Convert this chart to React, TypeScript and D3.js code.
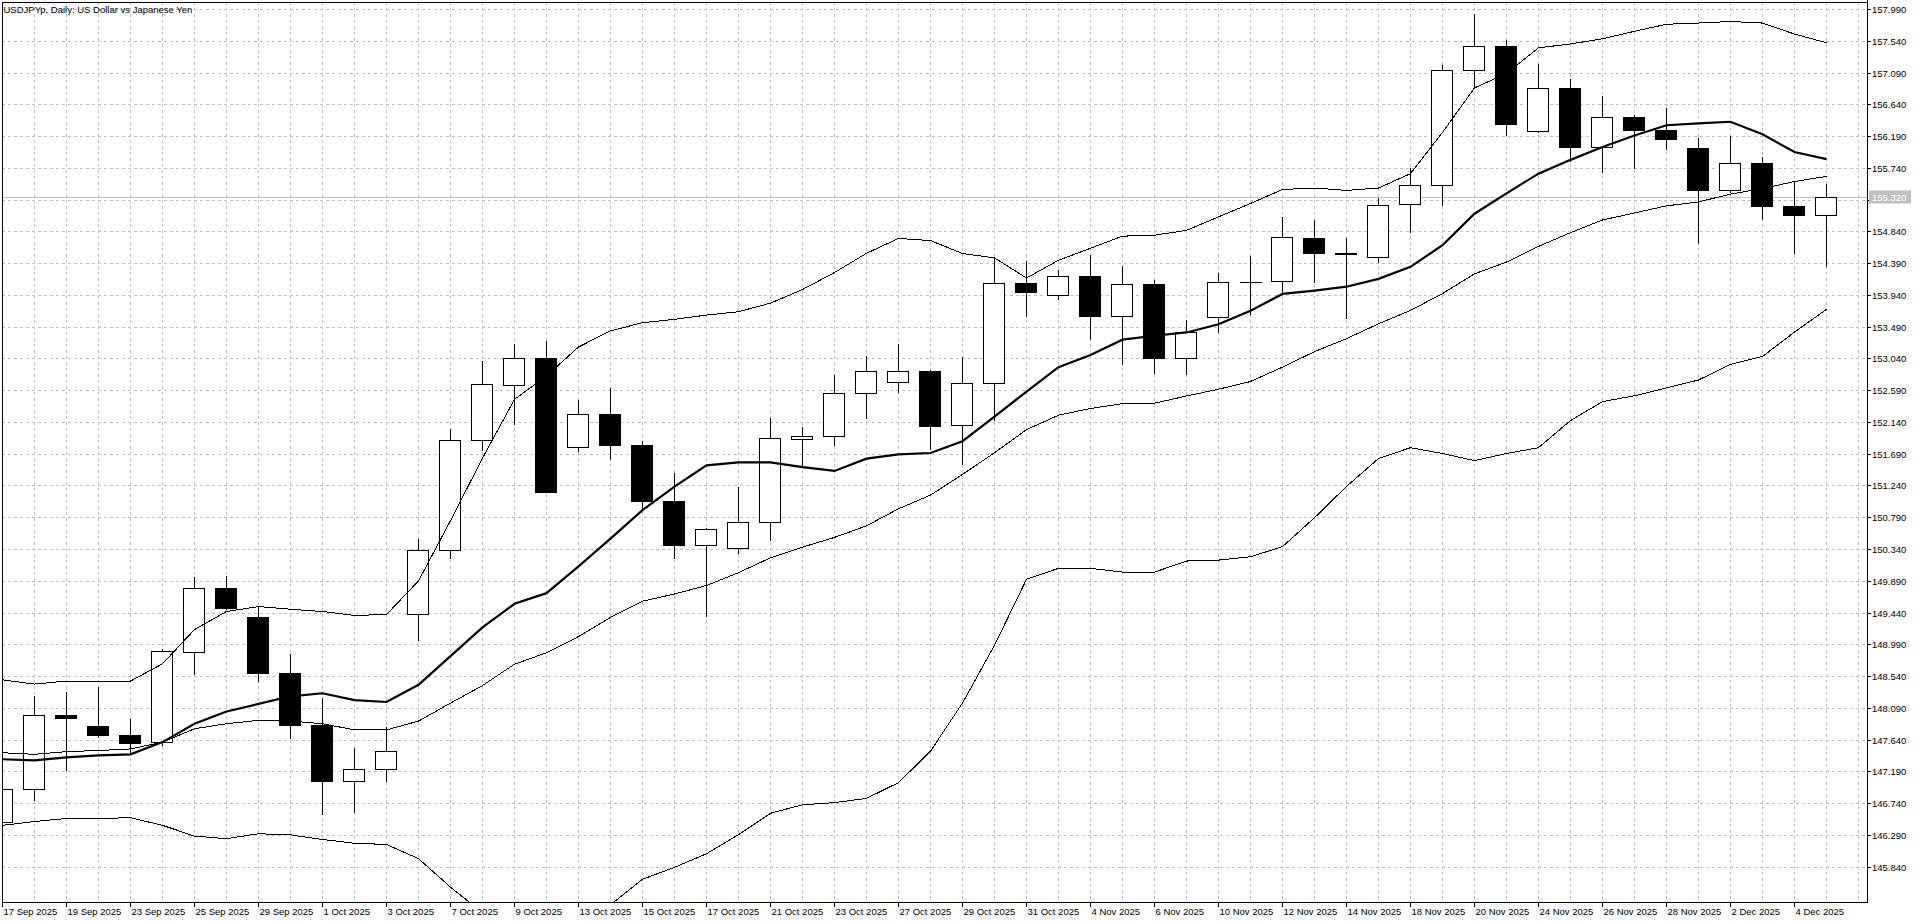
import React from 'react';
import * as d3 from 'd3';

// USDJPYp daily candles, 17 Sep 2025 .. 5 Dec 2025
const dates = [
  '17 Sep 2025', '18 Sep 2025', '19 Sep 2025', '22 Sep 2025', '23 Sep 2025', '24 Sep 2025', '25 Sep 2025', '26 Sep 2025',
  '29 Sep 2025', '30 Sep 2025', '1 Oct 2025', '2 Oct 2025', '3 Oct 2025', '6 Oct 2025', '7 Oct 2025', '8 Oct 2025',
  '9 Oct 2025', '10 Oct 2025', '13 Oct 2025', '14 Oct 2025', '15 Oct 2025', '16 Oct 2025', '17 Oct 2025', '20 Oct 2025',
  '21 Oct 2025', '22 Oct 2025', '23 Oct 2025', '24 Oct 2025', '27 Oct 2025', '28 Oct 2025', '29 Oct 2025', '30 Oct 2025',
  '31 Oct 2025', '3 Nov 2025', '4 Nov 2025', '5 Nov 2025', '6 Nov 2025', '7 Nov 2025', '10 Nov 2025', '11 Nov 2025',
  '12 Nov 2025', '13 Nov 2025', '14 Nov 2025', '17 Nov 2025', '18 Nov 2025', '19 Nov 2025', '20 Nov 2025', '21 Nov 2025',
  '24 Nov 2025', '25 Nov 2025', '26 Nov 2025', '27 Nov 2025', '28 Nov 2025', '1 Dec 2025', '2 Dec 2025', '3 Dec 2025',
  '4 Dec 2025', '5 Dec 2025',
];

const open = [
  146.48, 146.945, 147.99, 147.838, 147.708, 147.605, 148.887, 149.79, 149.374, 148.579,
  147.848, 147.053, 147.226, 149.422, 150.326, 151.887, 152.659, 153.045, 151.784, 152.249,
  151.814, 151.024, 150.391, 150.361, 150.729, 151.899, 151.941, 152.55, 152.713, 152.858,
  152.092, 152.692, 154.104, 153.933, 154.206, 153.647, 154.09, 153.047, 153.62, 154.12,
  154.138, 154.745, 154.53, 154.479, 155.229, 155.496, 157.128, 157.468, 156.259, 156.877,
  156.036, 156.454, 156.27, 156.02, 155.424, 155.808, 155.201, 155.073,
];
const high = [
  147.05, 148.265, 148.308, 148.384, 147.93, 148.925, 149.942, 149.963, 149.525, 148.849,
  148.227, 147.518, 147.821, 150.483, 152.04, 153.003, 153.244, 153.28, 152.448, 152.617,
  151.875, 151.41, 150.64, 151.223, 152.194, 152.062, 152.804, 153.075, 153.25, 152.87,
  153.054, 154.465, 154.417, 154.295, 154.499, 154.349, 154.145, 153.579, 154.247, 154.485,
  155.045, 155.004, 154.751, 155.317, 155.741, 157.2, 157.913, 157.551, 157.206, 156.994,
  156.755, 156.482, 156.593, 156.159, 156.198, 155.897, 155.546, 155.507,
];
const low = [
  146.35, 146.767, 147.19, 147.66, 147.43, 147.55, 148.552, 149.48, 148.46, 147.643,
  146.577, 146.599, 147.037, 149.038, 150.2, 151.724, 152.098, 151.13, 151.712, 151.603,
  150.91, 150.204, 149.371, 150.264, 150.451, 151.483, 151.802, 152.188, 152.55, 151.736,
  151.533, 152.147, 153.626, 153.872, 153.299, 152.945, 152.815, 152.808, 153.395, 153.66,
  153.967, 154.104, 153.599, 154.397, 154.811, 155.201, 156.883, 156.198, 156.24, 155.825,
  155.669, 155.724, 155.992, 154.666, 155.379, 155.006, 154.516, 154.338,
];
const close = [
  146.945, 147.984, 147.95, 147.7, 147.594, 148.892, 149.79, 149.509, 148.579, 147.848,
  147.053, 147.226, 147.475, 150.326, 151.889, 152.671, 153.045, 151.151, 152.249, 151.814,
  151.024, 150.397, 150.62, 150.729, 151.911, 151.941, 152.55, 152.858, 152.858, 152.086,
  152.692, 154.104, 153.974, 154.206, 153.647, 154.09, 153.047, 153.408, 154.117, 154.125,
  154.758, 154.533, 154.52, 155.215, 155.496, 157.128, 157.468, 156.365, 156.877, 156.031,
  156.454, 156.27, 156.148, 155.424, 155.808, 155.201, 155.073, 155.32,
];

// bollinger bands (thin lines)
const bbUpper = [
  148.487, 148.427, 148.47, 148.47, 148.47, 148.714, 149.2, 149.455, 149.525, 149.487,
  149.455, 149.4, 149.412, 149.888, 150.742, 151.627, 152.46, 152.792, 153.202, 153.431,
  153.546, 153.594, 153.654, 153.702, 153.823, 154.016, 154.257, 154.529, 154.74, 154.71,
  154.526, 154.465, 154.179, 154.431, 154.601, 154.772, 154.786, 154.854, 155.045, 155.235,
  155.433, 155.454, 155.42, 155.454, 155.658, 156.242, 156.872, 157.078, 157.44, 157.495,
  157.568, 157.674, 157.774, 157.791, 157.813, 157.791, 157.635, 157.512,
];
const bbMiddle = [
  147.454, 147.432, 147.47, 147.486, 147.508, 147.605, 147.794, 147.865, 147.913, 147.903,
  147.865, 147.778, 147.778, 147.903, 148.157, 148.406, 148.708, 148.871, 149.1, 149.371,
  149.601, 149.703, 149.824, 150.005, 150.216, 150.367, 150.505, 150.668, 150.91, 151.104,
  151.397, 151.704, 152.031, 152.236, 152.331, 152.399, 152.406, 152.508, 152.604, 152.713,
  152.917, 153.136, 153.32, 153.531, 153.72, 153.959, 154.238, 154.405, 154.627, 154.822,
  155.001, 155.101, 155.201, 155.257, 155.368, 155.446, 155.546, 155.619,
];
// 15..19 run below the visible area, estimated
const bbLower = [
  146.426, 146.48, 146.523, 146.523, 146.534, 146.426, 146.274, 146.237, 146.307, 146.291,
  146.226, 146.172, 146.155, 145.955, 145.55, 145.19, 144.96, 144.95, 145.0, 145.3,
  145.662, 145.831, 146.024, 146.295, 146.597, 146.717, 146.747, 146.808, 147.031, 147.477,
  148.158, 148.977, 149.911, 150.067, 150.067, 150.013, 150.013, 150.17, 150.183, 150.231,
  150.374, 150.783, 151.227, 151.622, 151.776, 151.693, 151.592, 151.693, 151.776, 152.16,
  152.428, 152.511, 152.623, 152.734, 152.957, 153.068, 153.413, 153.736,
];
// moving average (thick line)
const ma = [
  147.362, 147.346, 147.389, 147.416, 147.432, 147.605, 147.865, 148.038, 148.146, 148.254,
  148.297, 148.2, 148.173, 148.417, 148.822, 149.23, 149.564, 149.715, 150.095, 150.487,
  150.891, 151.223, 151.525, 151.567, 151.567, 151.501, 151.446, 151.621, 151.682, 151.7,
  151.867, 152.215, 152.57, 152.917, 153.088, 153.306, 153.361, 153.408, 153.524, 153.715,
  153.954, 154.001, 154.056, 154.167, 154.338, 154.644, 155.09, 155.379, 155.658, 155.853,
  156.036, 156.198, 156.343, 156.371, 156.393, 156.215, 155.964, 155.864,
];

const priceTicks = [
  157.99, 157.54, 157.09, 156.64, 156.19, 155.74, 155.29, 154.84, 154.39, 153.94,
  153.49, 153.04, 152.59, 152.14, 151.69, 151.24, 150.79, 150.34, 149.89, 149.44,
  148.99, 148.54, 148.09, 147.64, 147.19, 146.74, 146.29, 145.84,
];
const bid = 155.32;

const W = 1920;
const H = 923;
const L = 2;
const T = 2;
const R = 1867;
const B = 902;
const FONT = "'Liberation Sans', Arial, sans-serif";
const GRID = '#c0c0c0';

export default function App() {
  const x = d3.scaleLinear().domain([0, 1]).range([2.5, 34.5]);
  const y = d3.scaleLinear().domain([145.84, 157.99]).range([866.7, 9]);

  const line = d3.line<number>().x((_, i) => x(i)).y(d => y(d));
  const bidY = Math.round(y(bid)) + 0.5;

  return (
    <svg width={W} height={H} style={{ position: 'absolute', left: 0, top: 0, background: '#fff' }}
      fontFamily={FONT} fontSize={9.5}>
      <defs>
        <clipPath id="plot">
          <rect x={L} y={T} width={R - L} height={B - T} />
        </clipPath>
      </defs>
      <rect width={W} height={H} fill="#fff" />

      <g clipPath="url(#plot)">
        {/* grid */}
        {priceTicks.map(p => {
          const yy = Math.round(y(p)) + 0.5;
          return <line key={'h' + p} x1={L} x2={R} y1={yy} y2={yy} stroke={GRID} strokeDasharray="3,3" />;
        })}
        {d3.range(dates.length + 1).map(i => (
          <line key={'v' + i} x1={x(i)} x2={x(i)} y1={T} y2={B} stroke={GRID} strokeDasharray="3,3" />
        ))}

        {/* bid line */}
        <line x1={L} x2={R} y1={bidY} y2={bidY} stroke={GRID} />

        {/* candles */}
        {dates.map((d, i) => {
          const cx = x(i);
          const o = open[i], c = close[i];
          const top = Math.round(y(Math.max(o, c))) + 0.5;
          const bot = Math.round(y(Math.min(o, c))) + 0.5;
          const up = c >= o;
          return (
            <g key={d} shapeRendering="crispEdges">
              <line x1={cx} x2={cx} y1={Math.round(y(high[i]))} y2={Math.round(y(low[i]))} stroke="#000" />
              {bot - top < 1 ? (
                <line x1={cx - 11} x2={cx + 11} y1={top} y2={top} stroke="#000" />
              ) : (
                <rect x={cx - 11} y={top} width={21} height={bot - top}
                  fill={up ? '#fff' : '#000'} stroke="#000" />
              )}
            </g>
          );
        })}

        {/* indicators */}
        <g fill="none" stroke="#000">
          <path d={line(bbUpper) || ''} strokeWidth={1} shapeRendering="crispEdges" />
          <path d={line(bbMiddle) || ''} strokeWidth={1} shapeRendering="crispEdges" />
          <path d={line(bbLower) || ''} strokeWidth={1} shapeRendering="crispEdges" />
          <path d={line(ma) || ''} strokeWidth={2.2} />
        </g>
      </g>

      {/* frame */}
      <g shapeRendering="crispEdges">
        <line x1={L + 0.5} x2={L + 0.5} y1={T} y2={B} stroke="#000" />
        <line x1={L} x2={R} y1={T + 0.5} y2={T + 0.5} stroke="#000" />
        <line x1={R + 0.5} x2={R + 0.5} y1={0} y2={B + 1} stroke="#000" />
        <line x1={L} x2={R + 1} y1={B + 0.5} y2={B + 0.5} stroke="#000" />
      </g>

      <text x={3.5} y={12.5} fill="#000">USDJPYp, Daily:  US Dollar vs Japanese Yen</text>

      {/* price axis */}
      {priceTicks.map(p => {
        const yy = Math.round(y(p)) + 0.5;
        const hidden = Math.abs(y(p) - y(bid)) < 10;
        return (
          <g key={'p' + p}>
            <line x1={R} x2={R + 4} y1={yy} y2={yy} stroke="#000" shapeRendering="crispEdges" />
            {!hidden && <text x={R + 5} y={yy + 3.5} fill="#000">{p.toFixed(3)}</text>}
          </g>
        );
      })}
      <rect x={R + 2} y={bidY - 7} width={42} height={13} fill={GRID} />
      <text x={R + 5} y={bidY + 3.5} fill="#fff">{bid.toFixed(3)}</text>

      {/* time axis */}
      {dates.map((d, i) => i % 2 === 0 && (
        <g key={'t' + d}>
          <line x1={x(i)} x2={x(i)} y1={B} y2={B + 5} stroke="#000" shapeRendering="crispEdges" />
          <text x={x(i) + 1} y={B + 13} fill="#000">{d}</text>
        </g>
      ))}
    </svg>
  );
}
